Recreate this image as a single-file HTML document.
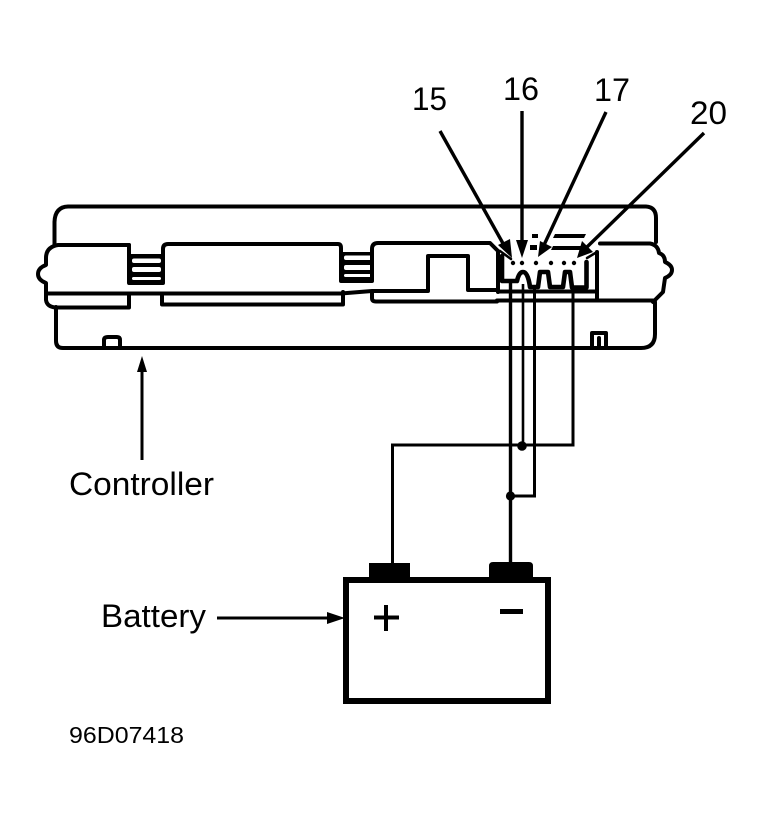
<!DOCTYPE html>
<html>
<head>
<meta charset="utf-8">
<style>
html,body{margin:0;padding:0;background:#fff}
svg{display:block}
text{font-family:"Liberation Sans",sans-serif;fill:#000}
</style>
</head>
<body>
<svg width="763" height="818" viewBox="0 0 763 818" xmlns="http://www.w3.org/2000/svg">
<!-- vents -->
<g fill="#000">
  <rect x="129" y="254" width="34" height="29"/>
  <rect x="341" y="252" width="31" height="29"/>
</g>
<g fill="#fff">
  <rect x="132" y="258.500" width="29" height="4.500" rx="2"/>
  <rect x="132" y="267" width="29" height="5" rx="2"/>
  <rect x="132" y="277" width="29" height="3" rx="1.500"/>
  <rect x="344" y="255.500" width="28" height="4.500" rx="2"/>
  <rect x="344" y="265" width="28" height="5" rx="2"/>
  <rect x="344" y="274" width="28" height="3" rx="1.500"/>
</g>
<g fill="none" stroke="#000" stroke-width="4" stroke-linejoin="round" stroke-linecap="round">
  <!-- controller outline -->
  <path d="M54.500 245V222Q55 207 68 206.500H646Q656 207 656 218V242"/>
  <path d="M56 307V341Q56 348 63 348H641Q655 348 655 334V302"/>
  <!-- left side band -->
  <path d="M129 245H58Q46 247 46 258V265Q38 268 38 274Q38 280 46 283V300Q47 307 56 307.500H129V294"/>
  <!-- right side band -->
  <path d="M600 243.500H650Q658 245 659 253Q665 255 665 262Q672 265 672 270Q672 275 665 278L663 292L653 302"/>
  <!-- main horizontal lines -->
  <path d="M46 293.500H341L372 291H428V256H468V290H498"/>
  <path d="M498 291.500H596M497 300.500H653"/>
  <!-- blocks -->
  <path d="M129 245V283H163V249Q163 244 168 244H338Q341 244 341 248V281H372V249Q372 243 378 243H490L498 251V292"/>
  <path d="M162 294V304.500H343V292"/>
  <path d="M372 292V298Q372 301.500 376 301.500H497"/>
  <!-- connector -->
  <path d="M502 256V281H517Q519 272 523 272Q528 272 530 287H538L540 272H548L550 287H563L565 272H570L572 287.500H586.500V262" stroke-width="4.600"/>
  <path d="M597 252V300"/>
  <path d="M500 251L511 259" stroke-width="2.500"/>
  <path d="M597 252L587 258" stroke-width="2.500"/>
  <!-- tabs -->
  <path d="M104 347V340Q104 337 108 337H117Q120 337 120 340V347"/>
  <path d="M592 347V333H606V347M599 338V346"/>
</g>
<!-- connector details -->
<g fill="#000">
  <rect x="532" y="234" width="6" height="4"/>
  <rect x="530" y="245" width="7" height="5"/>
  <polygon points="555,234 586,234 584,238 553,238"/>
  <polygon points="553,246 582,246 580,250 551,250"/>
  <circle cx="513" cy="263" r="2.200"/>
  <circle cx="522" cy="263" r="2.200"/>
  <circle cx="536" cy="263" r="2.200"/>
  <circle cx="551" cy="263" r="2.200"/>
  <circle cx="564" cy="263" r="2.200"/>
  <circle cx="574" cy="263" r="2.200"/>
</g>
<!-- wires -->
<g fill="none" stroke="#000" stroke-linejoin="miter">
  <path d="M510.500 283V564" stroke-width="3.400"/>
  <path d="M523 284V446" stroke-width="2.600"/>
  <path d="M534.500 287V496H511" stroke-width="3"/>
  <path d="M573 288V445H392.500V566" stroke-width="3"/>
</g>
<g fill="#000">
  <circle cx="522" cy="446" r="4.800"/>
  <circle cx="510.500" cy="496" r="4.600"/>
</g>
<!-- label arrows -->
<g stroke="#000" fill="#000">
  <path d="M440 131L505 247" stroke-width="3.400"/>
  <polygon points="512,258 498,245 510,239" stroke="none"/>
  <path d="M522 111V246" stroke-width="3.400"/>
  <polygon points="522,258 516,240 528,240" stroke="none"/>
  <path d="M606 112L544 245" stroke-width="3.400"/>
  <polygon points="538,257 540,241 552,247" stroke="none"/>
  <path d="M704 133L587 247" stroke-width="3.400"/>
  <polygon points="577,258 582,241 593,252" stroke="none"/>
  <path d="M142 460V370" stroke-width="3"/>
  <polygon points="142,356 147,372 137,372" stroke="none"/>
  <path d="M217 618H328" stroke-width="3"/>
  <polygon points="345,618 327,612 327,624" stroke="none"/>
</g>
<!-- battery -->
<rect x="346" y="580" width="202" height="121" fill="none" stroke="#000" stroke-width="6"/>
<g fill="#000">
  <rect x="369" y="563" width="41" height="16"/>
  <path d="M489 579V566Q489 562 493 562H529Q533 562 533 566V579Z"/>
  <rect x="374" y="615.500" width="25" height="4"/>
  <rect x="384" y="605" width="4" height="26"/>
  <rect x="500" y="609" width="23" height="5"/>
</g>
<!-- labels -->
<text x="412" y="110" font-size="32" textLength="35" lengthAdjust="spacingAndGlyphs">15</text>
<text x="503" y="100" font-size="32" textLength="36" lengthAdjust="spacingAndGlyphs">16</text>
<text x="594" y="101" font-size="32" textLength="36" lengthAdjust="spacingAndGlyphs">17</text>
<text x="690" y="124" font-size="32" textLength="37" lengthAdjust="spacingAndGlyphs">20</text>
<text x="69" y="495" font-size="32" textLength="145" lengthAdjust="spacingAndGlyphs">Controller</text>
<text x="101" y="627" font-size="32" textLength="105" lengthAdjust="spacingAndGlyphs">Battery</text>
<text x="69" y="743" font-size="23" textLength="115" lengthAdjust="spacingAndGlyphs">96D07418</text>
</svg>
</body>
</html>
